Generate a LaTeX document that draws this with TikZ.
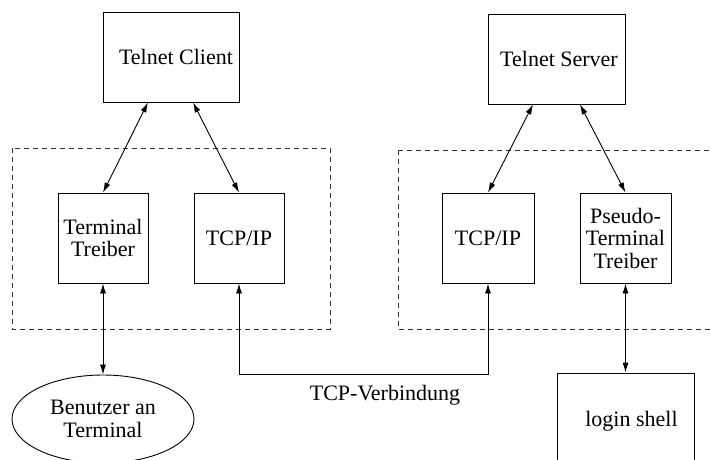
\documentclass[tikz,border=0pt]{standalone}
\usepackage{fontspec}
\setmainfont{Liberation Serif}
\usetikzlibrary{arrows.meta,shapes.geometric}

\begin{document}
\begin{tikzpicture}[x=1pt,y=-1pt,
  every node/.style={font=\fontsize{22}{22.5}\selectfont, align=center, inner sep=0pt},
  box/.style={draw, line width=0.9pt, minimum width=#1, minimum height=90pt},
  box/.default=90pt,
  group/.style={draw=black!80, line width=0.9pt, dash pattern=on 5pt off 4pt},
  link/.style={line width=0.9pt, {Latex[length=10pt,width=6pt]}-{Latex[length=10pt,width=6pt]}}]
  \useasboundingbox (0,0) rectangle (711,459);

  % dashed host frames
  \draw[group] (12,148) rectangle (330,329);
  \draw[group] (398,150) -- (398,329) -- (725,329);
  \draw[group] (398,150) -- (725,150);

  % application boxes
  \node[box=136pt] (client) at (171,57) {\hspace*{10pt}Telnet Client};
  \node[box=137pt] (server) at (556.5,59) {\hspace*{5pt}Telnet Server};

  % drivers and protocol stacks
  \node[box] (ttreiber) at (103,238) {Terminal\\Treiber};
  \node[box] (tcpl) at (239,238) {\raisebox{-5pt}{TCP/IP}};
  \node[box=92pt] (tcpr) at (488,238) {TCP/IP};
  \node[box=91pt] (pseudo) at (625.5,238) {Pseudo-\\Terminal\\Treiber};

  % endpoints
  \node[draw, ellipse, line width=0.9pt, minimum width=182pt, minimum height=88pt] (user) at (103,419) {Benutzer an\\Terminal};
  \node[draw, line width=0.9pt, minimum width=137pt, minimum height=96pt] (login) at (625.5,421) {\hspace*{12pt}login shell};

  % connections
  \draw[link] ([xshift=-23pt]client.south) -- (ttreiber.north);
  \draw[link] ([xshift=22pt]client.south) -- (tcpl.north);
  \draw[link] ([xshift=-23.5pt]server.south) -- (tcpr.north);
  \draw[link] ([xshift=23.5pt]server.south) -- (pseudo.north);
  \draw[link] (ttreiber.south) -- (user.north);
  \draw[link] (pseudo.south) -- (login.north);

  \coordinate (bend) at (488,374);
  \draw[link] (tcpl.south) |- (bend) -- (tcpr.south);
  \node (conn) at (385,395) {TCP-Verbindung};
\end{tikzpicture}
\end{document}
